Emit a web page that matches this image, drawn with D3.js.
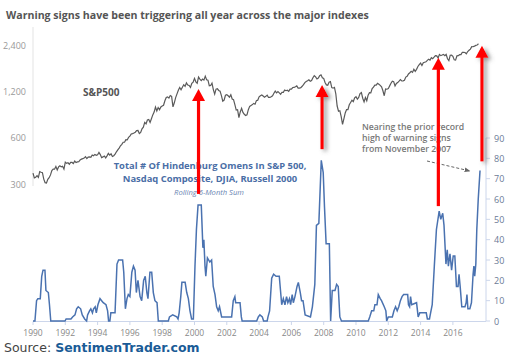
<!DOCTYPE html>
<html><head><meta charset="utf-8">
<script src="https://cdn.jsdelivr.net/npm/d3@7"></script>
<style>body{margin:0;background:#fff}svg{display:block}</style>
</head><body><svg id="c" width="521" height="359"></svg>
<script>
// ---- Data ----
const spYears = [1990,1991,1992,1993,1994,1995,1996,1997,1998,1999,2000,2001,2002,2003,2004,2005,2006,2007,2008,2009,2010,2011,2012,2013,2014,2015,2016,2017];
const spMonthly = [
 [329,332,340,331,361,358,356,323,306,304,322,330],
 [344,367,375,375,390,371,388,395,388,392,375,417],
 [409,413,404,415,415,408,424,414,418,419,431,436],
 [439,443,452,440,450,451,448,464,459,468,462,466],
 [482,467,446,451,457,444,458,475,463,472,454,459],
 [470,487,501,515,533,545,562,562,584,582,605,616],
 [636,640,646,654,669,671,640,652,687,705,757,741],
 [786,791,757,801,848,885,954,899,947,915,955,970],
 [980,1049,1102,1112,1091,1134,1121,957,1017,1099,1164,1229],
 [1280,1238,1286,1335,1302,1373,1329,1320,1283,1363,1389,1469],
 [1394,1366,1499,1452,1421,1455,1431,1518,1437,1429,1315,1320],
 [1366,1240,1160,1249,1256,1224,1211,1134,1041,1060,1139,1148],
 [1130,1107,1147,1076,1067,990,912,916,815,886,936,880],
 [856,841,848,917,964,975,990,1008,996,1051,1058,1112],
 [1131,1145,1126,1107,1121,1141,1102,1104,1115,1130,1174,1212],
 [1181,1204,1181,1157,1192,1191,1234,1220,1229,1207,1249,1248],
 [1280,1281,1295,1311,1270,1270,1277,1304,1336,1378,1401,1418],
 [1438,1407,1421,1482,1531,1503,1455,1474,1527,1549,1481,1468],
 [1379,1331,1323,1386,1400,1280,1267,1283,1165,969,896,903],
 [826,735,798,873,919,919,987,1021,1057,1036,1096,1115],
 [1074,1104,1169,1187,1089,1031,1102,1049,1141,1183,1181,1258],
 [1286,1327,1326,1364,1345,1321,1292,1219,1131,1253,1247,1258],
 [1312,1366,1408,1398,1310,1362,1379,1407,1441,1412,1416,1426],
 [1498,1515,1569,1598,1631,1606,1686,1633,1682,1757,1806,1848],
 [1783,1859,1872,1884,1924,1960,1931,2003,1972,2018,2068,2059],
 [1995,2105,2068,2086,2107,2063,2104,1972,1920,2079,2080,2044],
 [1940,1932,2060,2065,2097,2099,2174,2171,2168,2126,2199,2239],
 [2279,2364,2363,2384,2412,2423,2470]
];
const spStart = 353;

const hoDates = [1990.00,1990.12,1990.22,1990.30,1990.45,1990.54,1990.62,1990.74,1990.80,1990.95,1991.02,1991.10,1991.98,1992.05,1992.35,1992.45,1992.60,1992.70,1992.80,1992.95,1993.05,1993.20,1993.32,1993.38,1993.50,1993.58,1993.68,1993.75,1993.85,1993.92,1994.02,1994.15,1994.25,1994.35,1994.52,1994.62,1994.68,1994.76,1994.82,1995.08,1995.20,1995.30,1995.55,1995.62,1995.72,1995.82,1995.90,1996.00,1996.12,1996.22,1996.32,1996.40,1996.50,1996.63,1996.73,1996.85,1996.95,1997.05,1997.12,1997.24,1997.35,1997.45,1997.55,1997.68,1997.76,1998.38,1998.45,1998.65,1998.90,1998.98,1999.05,1999.15,1999.22,1999.42,1999.52,1999.62,1999.72,1999.82,1999.93,2000.03,2000.12,2000.22,2000.42,2000.52,2000.58,2000.65,2000.70,2000.80,2000.95,2001.06,2001.16,2001.27,2001.37,2001.47,2001.55,2001.68,2002.30,2002.40,2002.50,2002.55,2002.82,2002.90,2002.95,2003.85,2003.95,2004.05,2004.20,2004.28,2004.50,2004.55,2004.65,2004.78,2004.90,2005.05,2005.25,2005.40,2005.50,2005.60,2005.70,2005.78,2005.88,2005.95,2006.05,2006.12,2006.22,2006.35,2006.43,2006.55,2006.63,2006.72,2006.85,2007.18,2007.30,2007.45,2007.55,2007.70,2007.85,2007.97,2008.05,2008.15,2008.35,2008.43,2008.53,2008.70,2008.80,2008.90,2009.00,2009.10,2010.76,2010.85,2010.97,2011.10,2011.17,2011.30,2011.38,2011.50,2011.58,2011.75,2011.85,2011.90,2012.00,2012.25,2012.35,2012.45,2012.55,2012.65,2012.75,2012.85,2012.95,2013.20,2013.25,2013.32,2013.38,2013.45,2013.75,2013.85,2013.95,2014.35,2014.42,2014.55,2014.62,2014.72,2014.85,2014.98,2015.15,2015.25,2015.37,2015.45,2015.57,2015.65,2015.72,2015.82,2015.92,2016.02,2016.12,2016.22,2016.32,2016.38,2016.45,2016.55,2016.75,2016.82,2016.87,2016.93,2017.05,2017.15,2017.25,2017.30,2017.35,2017.42,2017.48,2017.57,2017.68];
const hoValues = [0,0,10,11,11,22,25,25,15,14,8,0,0,1,1,2,3,6,7,6,3,1,0,3,5,6,4,6,7,4,8,11,10,9,8,5,0,0,4,4,28,30,30,24,6,11,13,12,24,27,25,14,20,12,10,20,22,14,11,24,24,14,10,9,0,0,2,3,2,1,4,12,19,19,14,11,5,1,1,27,45,57,57,36,40,27,22,31,29,30,17,13,7,5,7,2,2,10,12,9,9,2,0,0,2,3,2,0,0,2,5,21,23,22,22,8,11,8,12,9,11,8,13,9,12,17,19,14,10,10,3,2,7,18,47,48,79,73,56,38,38,0,15,15,18,17,2,0,0,2,5,5,8,8,13,11,10,7,5,0,2,2,5,7,5,7,10,12,13,13,8,7,12,8,9,2,4,4,1,1,4,8,27,45,54,50,53,47,28,35,27,33,25,32,32,17,17,23,17,7,7,9,13,6,6,9,23,27,22,28,45,60,74];

const leftTicks = [300,600,1200,2400];
const rightTicks = [0,10,20,30,40,50,60,70,80,90];
const yearTicks = [1990,1992,1994,1996,1998,2000,2002,2004,2006,2008,2010,2012,2014,2016];

// arrows: [year position, bottom value on right axis scale, tip S&P level, shadow]
const arrowX = [2000.25, 2007.9, 2015.1, 2017.8];
const arrowBottomHO = [62.5, 84.5, 56.5, 78.5];
const arrowTipSP = [1250, 1330, 2000, 2400];
const arrowShadow = [false, true, false, true];

const titleText = "Warning signs have been triggering all year across the major indexes";
const hoTitle = ["Total # Of Hindenburg Omens In S&P 500,", "Nasdaq Composite, DJIA, Russell 2000"];
const hoSub = "Rolling 6-Month Sum";
const noteLines = ["Nearing the prior record", "high of warning signs", "from November 2007"];

// ---- Build ----
const svg = d3.select("#c");
const x = d3.scaleLinear().domain([1990, 2018.05]).range([33, 486]);
const ySP = d3.scaleLog().domain([300, 2400]).range([184, 45.7]);
const yHO = d3.scaleLinear().domain([0, 90]).range([321, 138]);

const defs = svg.append("defs");
const f = defs.append("filter").attr("id","sh").attr("x","-100%").attr("y","-20%").attr("width","400%").attr("height","140%");
f.append("feDropShadow").attr("dx",3).attr("dy",2).attr("stdDeviation",2).attr("flood-color","#666").attr("flood-opacity",0.7);
defs.append("marker").attr("id","ah").attr("viewBox","0 0 10 10").attr("refX",9).attr("refY",5)
  .attr("markerWidth",6).attr("markerHeight",6).attr("orient","auto")
  .append("path").attr("d","M0,1 L10,5 L0,9 Z").attr("fill","#666");

// title
svg.append("text").attr("x",6).attr("y",19).text(titleText)
  .attr("font-family","Open Sans").attr("font-weight","bold").attr("font-size",10.6).attr("fill","#555");

// left axis
const gL = svg.append("g");
gL.append("line").attr("x1",33).attr("x2",33).attr("y1",27).attr("y2",186).attr("stroke","#e3e3e3");
gL.selectAll("text").data(leftTicks).join("text")
  .attr("x",26).attr("y",d=>ySP(d)+3.5).attr("text-anchor","end")
  .attr("font-family","Open Sans").attr("font-size",9).attr("fill","#999")
  .text(d=>d3.format(",")(d));

// right axis
const gR = svg.append("g");
gR.append("line").attr("x1",486).attr("x2",486).attr("y1",yHO(90)).attr("y2",yHO(0)).attr("stroke","#ccd6eb");
gR.selectAll("line.t").data(rightTicks).join("line").attr("class","t")
  .attr("x1",486).attr("x2",490).attr("y1",d=>yHO(d)).attr("y2",d=>yHO(d)).attr("stroke","#ccd6eb");
gR.selectAll("text").data(rightTicks).join("text")
  .attr("x",494).attr("y",d=>yHO(d)+3.5)
  .attr("font-family","Open Sans").attr("font-size",9).attr("fill","#6b7a96")
  .text(d=>d);

// x axis
const gX = svg.append("g");
gX.append("line").attr("x1",33).attr("x2",486).attr("y1",321.5).attr("y2",321.5).attr("stroke","#ccd6eb");
gX.selectAll("line.t").data(yearTicks).join("line").attr("class","t")
  .attr("x1",d=>x(d)).attr("x2",d=>x(d)).attr("y1",321.5).attr("y2",325).attr("stroke","#ccd6eb");
gX.selectAll("text").data(yearTicks).join("text")
  .attr("x",d=>x(d)).attr("y",336).attr("text-anchor","middle")
  .attr("font-family","Open Sans").attr("font-size",8.5).attr("fill","#888")
  .text(d=>d);

// S&P line
const spData = [{t:1990, v:spStart}];
spYears.forEach((yr,i)=>spMonthly[i].forEach((v,m)=>spData.push({t:yr+(m+1)/12, v})));
svg.append("path").datum(spData)
  .attr("d", d3.line().x(d=>x(d.t)).y(d=>ySP(d.v)))
  .attr("fill","none").attr("stroke","#5a5a5a").attr("stroke-width",1.2);

// HO line
const hoData = hoDates.map((t,i)=>({t, v:hoValues[i]}));
svg.append("path").datum(hoData)
  .attr("d", d3.line().x(d=>x(d.t)).y(d=>yHO(d.v)))
  .attr("fill","none").attr("stroke","#4a72b0").attr("stroke-width",1.5);

// labels
svg.append("text").attr("x",83).attr("y",96).text("S&P500")
  .attr("font-family","Open Sans").attr("font-weight","bold").attr("font-size",10).attr("fill","#555");
svg.selectAll("text.hot").data(hoTitle).join("text").attr("class","hot")
  .attr("x",210).attr("y",(d,i)=>169+i*13).attr("text-anchor","middle")
  .attr("font-family","Open Sans").attr("font-weight","bold").attr("font-size",9.4).attr("fill","#4a6ea6")
  .text(d=>d);
svg.append("text").attr("x",209).attr("y",194.5).attr("text-anchor","middle").text(hoSub)
  .attr("font-family","Open Sans").attr("font-style","italic").attr("font-size",7.6).attr("fill","#6b86b3");

svg.selectAll("text.note").data(noteLines).join("text").attr("class","note")
  .attr("x",362).attr("y",(d,i)=>130+i*11).text(d=>d)
  .attr("font-family","Open Sans").attr("font-weight",600).attr("font-size",8.7).attr("fill","#777");
svg.append("line").attr("x1",427).attr("y1",161).attr("x2",470).attr("y2",171)
  .attr("stroke","#666").attr("stroke-dasharray","3,2").attr("stroke-width",1).attr("marker-end","url(#ah)");

// red arrows
arrowX.forEach((t,i)=>{
  const g = svg.append("g");
  if (arrowShadow[i]) g.attr("filter","url(#sh)");
  const cx = x(t), yb = yHO(arrowBottomHO[i]), yt = ySP(arrowTipSP[i]);
  g.append("rect").attr("x",cx-1.6).attr("y",yt+10).attr("width",3.2).attr("height",yb-yt-10).attr("fill","#ff0000");
  g.append("path").attr("d",`M${cx},${yt} L${cx+6.5},${yt+12} L${cx-6.5},${yt+12} Z`).attr("fill","#ff0000");
});

// source
const src = svg.append("text").attr("x",4).attr("y",352).attr("font-family","DejaVu Sans").attr("font-size",12.5);
src.append("tspan").attr("fill","#444").text("Source: ");
src.append("tspan").attr("fill","#1a5b96").attr("font-weight","bold").text("SentimenTrader.com");
</script></body></html>
